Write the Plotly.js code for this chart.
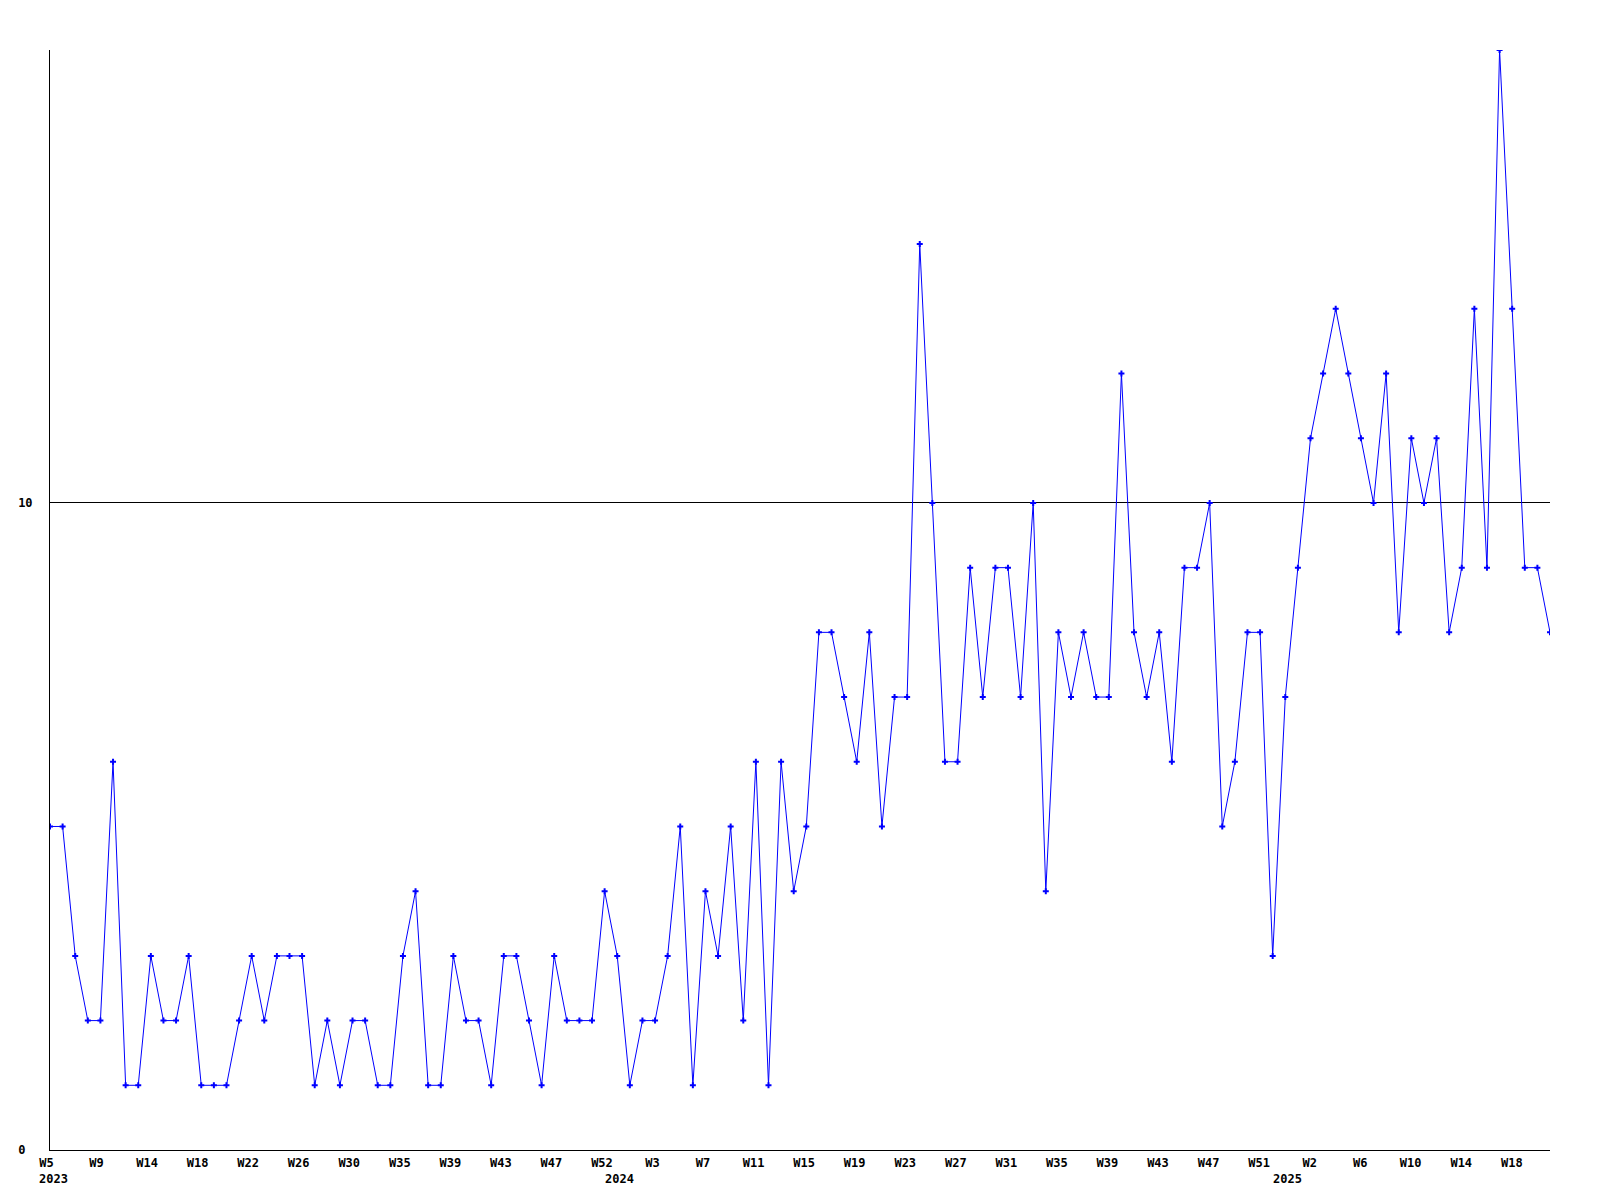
<!DOCTYPE html>
<html><head><meta charset="utf-8">
<script src="https://cdn.plot.ly/plotly-3.0.1.min.js"></script>
<style>html,body{margin:0;padding:0;background:#fff}</style>
</head><body><div id="chart" style="width:1600px;height:1200px"></div>
<script>
// Weekly values, 2023 W5 .. 2025 W20
const values = [
  5,5,3,2,2,6,1,1,3,2,2,3,1,1,1,2,3,2,3,3,
  3,1,2,1,2,2,1,1,3,4,1,1,3,2,2,1,3,3,2,1,
  3,2,2,2,4,3,1,2,2,3,5,1,4,3,5,2,6,1,6,4,
  5,8,8,7,6,8,5,7,7,14,10,6,6,9,7,9,9,7,10,4,
  8,7,8,7,7,12,8,7,8,6,9,9,10,5,6,8,8,3,7,9,
  11,12,13,12,11,10,12,8,11,10,11,8,9,13,9,17,13,9,9,8
];
const tickLabels = ["W5\u00a0","W9","W14","W18","W22","W26","W30","W35","W39","W43","W47","W52",
  "W3","W7","W11","W15","W19","W23","W27","W31","W35","W39","W43","W47","W51",
  "W2","W6","W10","W14","W18"];
const yearLabels = ["2023","2024","2025"];
const yearPos = [0.28, 45.2, 98.2];
const yTickVals = [0, 10];
const yTickText = ["0\u00a0", "10"];

const xs = values.map((_, i) => i);
const tickVals = tickLabels.map((_, k) => Math.max(0, k * 4.01 - 0.32));
const font = {family: "DejaVu Sans Mono", size: 12, color: "#000", weight: "bold"};

const trace = {
  x: xs, y: values, type: "scatter", mode: "lines+markers",
  line: {color: "#0000ff", width: 1},
  marker: {color: "#0000ff", symbol: "cross", size: 5},
  hoverinfo: "skip", cliponaxis: true
};

const annotations = yearLabels.map((t, i) => ({
  text: t, x: yearPos[i], xref: "x", y: -0.0268, yref: "paper",
  xanchor: "center", yanchor: "middle", showarrow: false, font: font
}));

const layout = {
  width: 1600, height: 1200,
  margin: {l: 50, r: 50, t: 50, b: 50},
  paper_bgcolor: "#fff", plot_bgcolor: "#fff",
  showlegend: false,
  xaxis: {
    range: [0, values.length - 1], showgrid: false, zeroline: false,
    showline: true, linecolor: "#000", linewidth: 1,
    tickmode: "array", tickvals: tickVals, ticktext: tickLabels,
    ticks: "", tickfont: font, ticklabelstandoff: 2
  },
  yaxis: {
    range: [0, 17], showgrid: true, gridcolor: "#000", gridwidth: 1,
    zeroline: false, showline: true, linecolor: "#000", linewidth: 1,
    tickmode: "array", tickvals: yTickVals, ticktext: yTickText,
    ticks: "", tickfont: font, ticklabelstandoff: 14
  },
  annotations: annotations
};

Plotly.newPlot("chart", [trace], layout, {staticPlot: true, displayModeBar: false});
</script>
</body></html>
